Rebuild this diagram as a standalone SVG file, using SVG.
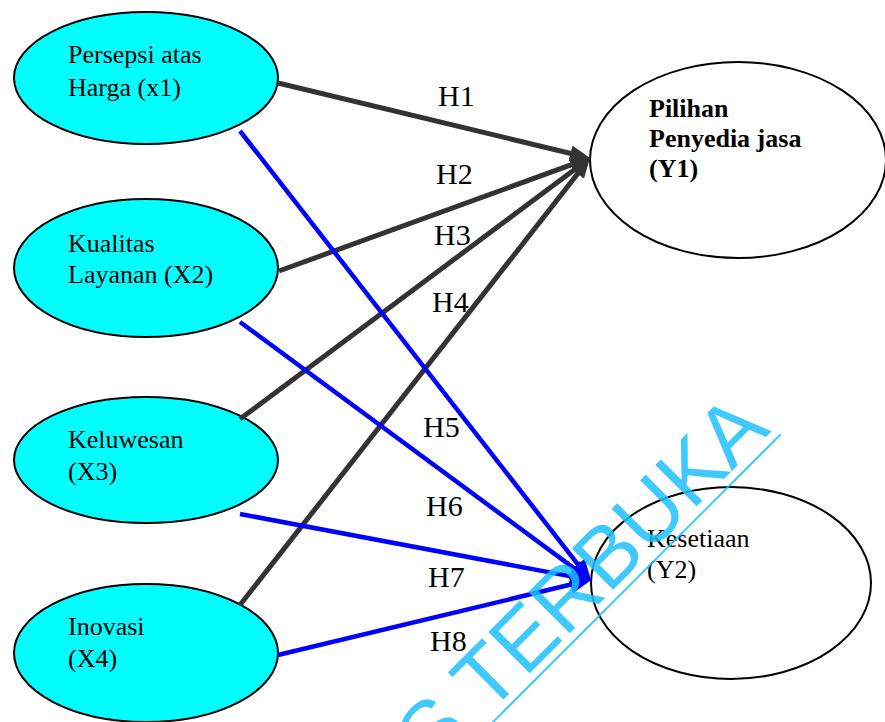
<svg xmlns="http://www.w3.org/2000/svg" width="885" height="722" viewBox="0 0 885 722">
<style>
.xn{fill:#00FFFF;stroke:#000;stroke-width:2}
.yn{fill:#fff;stroke:#000;stroke-width:2}
.t{font-family:'Liberation Serif','Times New Roman',serif;font-size:26px;fill:#000}
.b{font-weight:bold}
.h{font-family:'Liberation Serif','Times New Roman',serif;font-size:30px;fill:#000}
.dk{stroke:#333;stroke-width:5;fill:none}
.bl{stroke:#0000FF;stroke-width:4.5;fill:none}
.wm{font-family:'Liberation Sans',Arial,sans-serif;font-size:85px;fill:#1EC0FF}
</style>
<defs>
<marker id="ad" markerUnits="userSpaceOnUse" markerWidth="22" markerHeight="18" refX="10" refY="8" orient="auto" viewBox="0 0 22 18">
<path d="M0,0 L20,8 L0,16 z" fill="#333"/>
</marker>
<marker id="ab" markerUnits="userSpaceOnUse" markerWidth="24" markerHeight="20" refX="10" refY="9" orient="auto" viewBox="0 0 24 20">
<path d="M0,0 L22,9 L0,18 z" fill="#0000FF"/>
</marker>
</defs>
<rect width="885" height="722" fill="#fff"/>
<g id="X1"><ellipse class="xn" cx="146" cy="78" rx="132" ry="66"/><text class="t" x="68" y="63">Persepsi atas</text><text class="t" x="68" y="96">Harga (x1)</text></g>
<g id="X2"><ellipse class="xn" cx="146" cy="268" rx="132" ry="69"/><text class="t" x="68" y="252">Kualitas</text><text class="t" x="68" y="283">Layanan (X2)</text></g>
<g id="X3"><ellipse class="xn" cx="146" cy="460" rx="132" ry="63"/><text class="t" x="68" y="448">Keluwesan</text><text class="t" x="68" y="480">(X3)</text></g>
<g id="X4"><ellipse class="xn" cx="146" cy="653" rx="132" ry="69"/><text class="t" x="68" y="635">Inovasi</text><text class="t" x="68" y="667">(X4)</text></g>
<g id="Y1"><ellipse class="yn" cx="738" cy="160" rx="148" ry="98"/><text class="t b" x="649" y="117">Pilihan</text><text class="t b" x="649" y="147">Penyedia jasa</text><text class="t b" x="649" y="177">(Y1)</text></g>
<g id="Y2"><ellipse class="yn" cx="731" cy="583" rx="140" ry="96"/><text class="t" x="647" y="547">Kesetiaan</text><text class="t" x="647" y="578">(Y2)</text></g>
<g id="connectors">
<line class="dk" x1="278" y1="83" x2="580.3" y2="155.7" marker-end="url(#ad)"/>
<line class="dk" x1="279" y1="271" x2="580.6" y2="161.4" marker-end="url(#ad)"/>
<line class="dk" x1="240" y1="419" x2="582" y2="164" marker-end="url(#ad)"/>
<line class="dk" x1="240" y1="605" x2="583.8" y2="165.9" marker-end="url(#ad)"/>
<line class="bl" x1="240" y1="131" x2="583.9" y2="572.1" marker-end="url(#ab)"/>
<line class="bl" x1="240" y1="322" x2="582" y2="574.1" marker-end="url(#ab)"/>
<line class="bl" x1="240" y1="514" x2="580.2" y2="578.1" marker-end="url(#ab)"/>
<line class="bl" x1="278" y1="655" x2="580.3" y2="582.3" marker-end="url(#ab)"/>
<text class="h" x="438" y="106">H1</text>
<text class="h" x="436" y="184">H2</text>
<text class="h" x="434" y="245">H3</text>
<text class="h" x="432" y="312">H4</text>
<text class="h" x="423" y="437">H5</text>
<text class="h" x="426" y="516">H6</text>
<text class="h" x="428" y="587">H7</text>
<text class="h" x="430" y="651">H8</text>
</g>
<g id="watermark" transform="translate(601.5,601.5) rotate(-45)" opacity="0.85">
<text class="wm" x="241" y="0" text-anchor="end">S TERBUKA</text>
<line x1="-420" y1="8.5" x2="245" y2="8.5" stroke="#1EC0FF" stroke-width="2"/>
</g>
</svg>
